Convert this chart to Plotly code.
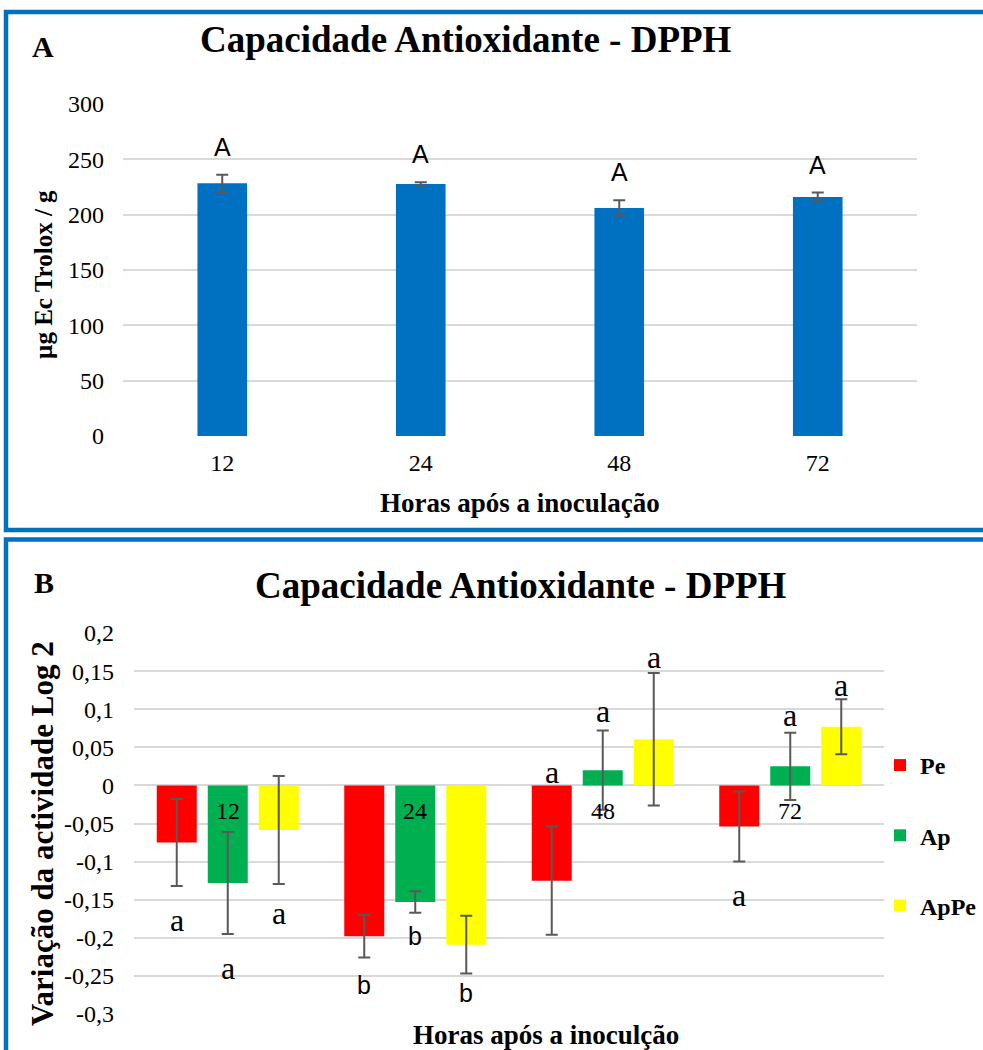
import plotly.graph_objects as go

# ---- data -------------------------------------------------------------
hours = ["12", "24", "48", "72"]

# Panel A: total antioxidant capacity (µg Trolox eq / g)
dpph_total = [228.3, 227.7, 206.0, 216.0]
dpph_total_err = [7.8, 1.5, 7.0, 4.0]
letters_total = ["A", "A", "A", "A"]

# Panel B: log2 change in activity per treatment
pe = [-0.075, -0.198, -0.125, -0.054]
pe_err = [0.057, 0.028, 0.071, 0.046]
ap = [-0.128, -0.153, 0.020, 0.025]
ap_err = [0.067, 0.014, 0.052, 0.044]
appe = [-0.0585, -0.209, 0.0605, 0.077]
appe_err = [0.071, 0.038, 0.087, 0.036]

letters_pe = ["a", "b", "a", "a"]
letters_ap = ["a", "b", "a", "a"]
letters_appe = ["a", "b", "a", "a"]
# heights at which the significance letters sit
sig_y_pe = [-0.1765, -0.262, 0.0176, -0.1437]
sig_y_ap = [-0.2396, -0.1975, 0.0976, 0.0924]
sig_y_appe = [-0.1675, -0.272, 0.169, 0.1324]

ticks_b = [0.2, 0.15, 0.1, 0.05, 0, -0.05, -0.1, -0.15, -0.2, -0.25, -0.3]
ticks_b_text = ["0,2", "0,15", "0,1", "0,05", "0", "-0,05", "-0,1", "-0,15",
                "-0,2", "-0,25", "-0,3"]

# ---- styling ----------------------------------------------------------
W, H = 983, 1050
SERIF = "Liberation Serif"
SANS = "Liberation Sans"
BLUE = "#0070C0"
GRID = "#D9D9D9"
ERR = "#595959"


def px(x):
    return x / W


def py(y):
    return 1 - y / H


err_style = dict(type="data", visible=True, color=ERR, thickness=2, width=6)

fig = go.Figure()

# Panel A bars
fig.add_trace(go.Bar(
    x=hours, y=dpph_total, width=0.25,
    marker=dict(color=BLUE, line=dict(width=0)),
    error_y=dict(array=dpph_total_err, **err_style),
    xaxis="x", yaxis="y", showlegend=False,
))

# Panel B grouped bars
bw = 0.2133
slot = 0.272
series = [
    ("Pe", pe, pe_err, "#FF0000", -slot),
    ("Ap", ap, ap_err, "#00B050", 0.0),
    ("ApPe", appe, appe_err, "#FFFF00", slot),
]
for name, vals, errs, color, centre in series:
    fig.add_trace(go.Bar(
        x=hours, y=vals, width=bw, offset=centre - bw / 2,
        name=f"<b>{name}</b>", legendgroup=name,
        marker=dict(color=color, line=dict(width=0)),
        error_y=dict(array=errs, **err_style),
        xaxis="x2", yaxis="y2",
    ))

annotations = []

# letters above panel A bars
for i, (v, e, t) in enumerate(zip(dpph_total, dpph_total_err, letters_total)):
    annotations.append(dict(
        x=i, y=v + e, xref="x", yref="y", text=t, showarrow=False,
        yanchor="middle", yshift=28,
        font=dict(family=SANS, size=25, color="#000000"),
    ))

# letters for panel B
for (name, vals, errs, color, centre), letters, ys in zip(
        series, [letters_pe, letters_ap, letters_appe],
        [sig_y_pe, sig_y_ap, sig_y_appe]):
    for i, (t, yv) in enumerate(zip(letters, ys)):
        fam = SERIF if t == "a" else SANS
        size = 32 if t == "a" else 25
        annotations.append(dict(
            x=i + centre, y=yv, xref="x2", yref="y2", text=t,
            showarrow=False, yanchor="middle",
            font=dict(family=fam, size=size, color="#000000"),
        ))

# category labels of panel B sit just under the zero line
for i, h in enumerate(hours):
    annotations.append(dict(
        x=i, y=0, xref="x2", yref="y2", text=h, showarrow=False,
        yanchor="top", yshift=-11,
        font=dict(family=SERIF, size=24, color="#000000"),
    ))

# titles, panel letters and axis titles
text_items = [
    ("<b>Capacidade Antioxidante - DPPH</b>", 466, 40, 37, 0),
    ("<b>A</b>", 43, 46, 30, 0),
    ("<b>Horas após a inoculação</b>", 520, 503, 27, 0),
    ("<b>µg Ec Trolox / g</b>", 44, 275, 25, -90),
    ("<b>Capacidade Antioxidante - DPPH</b>", 521, 585, 37, 0),
    ("<b>B</b>", 44, 582, 30, 0),
    ("<b>Horas após a inoculção</b>", 546, 1035, 27, 0),
    ("<b>Variação da actividade Log 2</b>", 42, 834, 31, -90),
]
for text, x, y, size, ang in text_items:
    annotations.append(dict(
        x=px(x), y=py(y), xref="paper", yref="paper", text=text,
        showarrow=False, xanchor="center", yanchor="middle", textangle=ang,
        font=dict(family=SERIF, size=size, color="#000000"),
    ))

# blue frames around the two panels
shapes = [
    dict(type="rect", xref="paper", yref="paper",
         x0=px(6), x1=px(W + 10), y0=py(530), y1=py(12),
         line=dict(color=BLUE, width=4.5), layer="below"),
    dict(type="rect", xref="paper", yref="paper",
         x0=px(6), x1=px(W + 10), y0=py(H + 10), y1=py(539.5),
         line=dict(color=BLUE, width=4.5), layer="below"),
]

tickfont = dict(family=SERIF, size=24, color="#000000")

fig.update_layout(
    width=W, height=H,
    margin=dict(l=0, r=0, t=0, b=0),
    paper_bgcolor="white", plot_bgcolor="white",
    font=dict(family=SERIF),
    barmode="group",
    xaxis=dict(
        domain=[px(123), px(917)], anchor="y", type="category",
        categoryorder="array", categoryarray=hours,
        showgrid=False, showline=False, zeroline=False, ticks="",
        tickfont=tickfont, ticklabelstandoff=10, automargin=False,
    ),
    yaxis=dict(
        domain=[py(436), py(104)], anchor="x", range=[0, 300], dtick=50,
        showgrid=True, gridcolor=GRID, gridwidth=1.5, zeroline=False,
        showline=False, ticks="", tickfont=tickfont,
        ticklabelstandoff=18, automargin=False,
    ),
    xaxis2=dict(
        domain=[px(134), px(884)], anchor="y2", type="category",
        categoryorder="array", categoryarray=hours,
        showgrid=False, showline=False, zeroline=False, ticks="",
        showticklabels=False, automargin=False,
    ),
    yaxis2=dict(
        domain=[py(1014), py(633)], anchor="x2", range=[-0.3, 0.2],
        tickmode="array", tickvals=ticks_b, ticktext=ticks_b_text,
        showgrid=True, gridcolor=GRID, gridwidth=1.5, zeroline=False,
        showline=False, ticks="", tickfont=tickfont,
        ticklabelstandoff=19, automargin=False,
    ),
    legend=dict(
        x=px(880), y=py(743), xanchor="left", yanchor="top",
        font=dict(family=SERIF, size=24, color="#000000"),
        tracegroupgap=36, bgcolor="rgba(0,0,0,0)",
        itemclick=False, itemdoubleclick=False,
    ),
    annotations=annotations,
    shapes=shapes,
)

fig.write_html("out.html")
